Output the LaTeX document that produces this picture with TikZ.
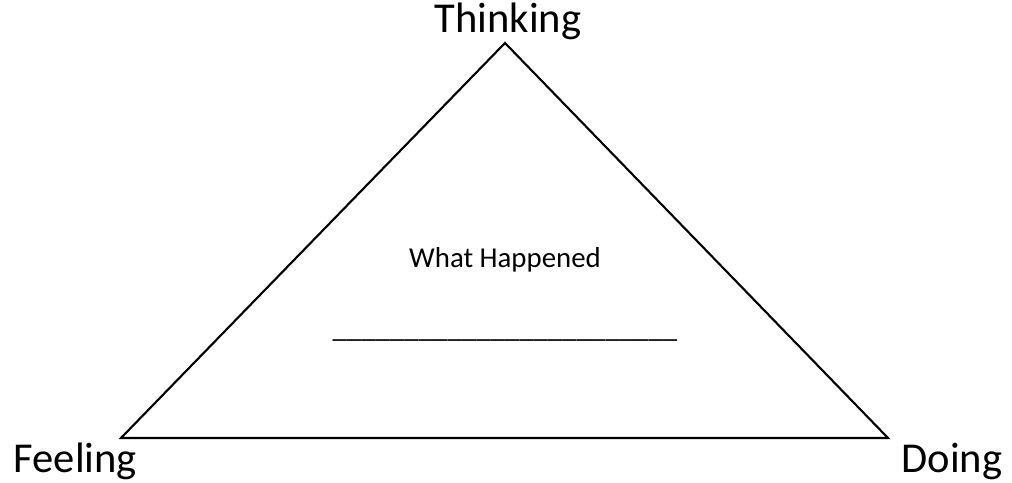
\documentclass[tikz,border=0pt]{standalone}
\usepackage{fontspec}
\setmainfont{Carlito}

\begin{document}
\begin{tikzpicture}[x=0.01cm,y=-0.01cm,
  corner/.style={inner sep=0pt, font=\fontsize{12.1pt}{14pt}\selectfont},
  middle/.style={inner sep=0pt, font=\fontsize{8.2pt}{10pt}\selectfont}]
\useasboundingbox (0,0) rectangle (1012,483);
\coordinate (top) at (505,43);
\coordinate (left) at (121,438);
\coordinate (right) at (888,438);
\draw[line width=0.6pt] (top)--(left)--(right)--cycle;
\node[corner, anchor=base] (thinking) at (508,33) {Thinking};
\node[corner, anchor=base west] (feeling) at (13,473) {Feeling};
\node[corner, anchor=base east] (doing) at (1003,473) {Doing};
\node[middle, anchor=base] (what) at (505,268) {What Happened};
\node[middle, anchor=base] (blank) at (505,338) {\_\_\_\_\_\_\_\_\_\_\_\_\_\_\_\_\_\_\_\_\_\_\_\_};
\end{tikzpicture}
\end{document}
